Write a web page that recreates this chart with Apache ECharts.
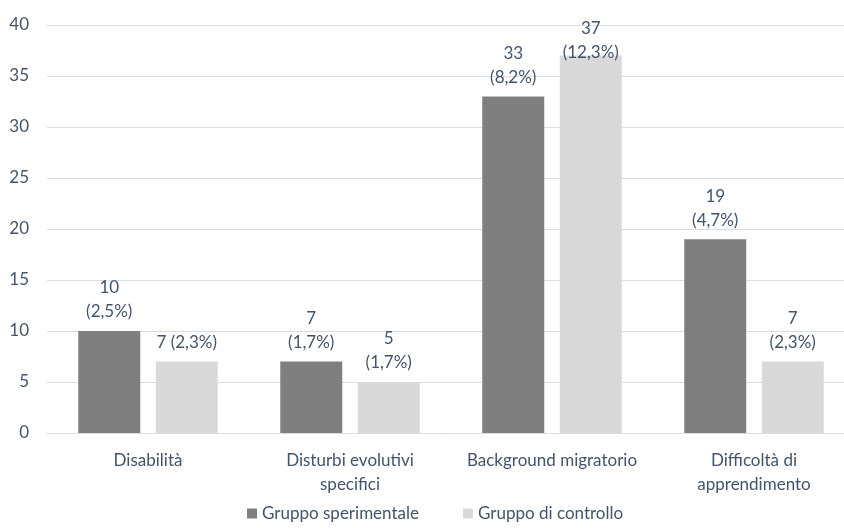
<!DOCTYPE html>
<html>
<head>
<meta charset="utf-8">
<script src="https://cdn.jsdelivr.net/npm/echarts@6/dist/echarts.min.js"></script>
<style>
  html, body { margin: 0; padding: 0; background: #fff; }
  #chart { width: 844px; height: 528px; }
</style>
</head>
<body>
<div id="chart"></div>
<script>
// categorie
const categories = ['Disabilità', 'Disturbi evolutivi\nspecifici', 'Background migratorio', 'Difficoltà di\napprendimento'];
// valori
const sperimentale = [10, 7, 33, 19];
const controllo = [7, 5, 37, 7];
const pctSperimentale = ['2,5%', '1,7%', '8,2%', '4,7%'];
const pctControllo = ['2,3%', '1,7%', '12,3%', '2,3%'];
const yTicks = [0, 5, 10, 15, 20, 25, 30, 35, 40];

const textColor = '#44546a';
const gridColor = '#d9dde6';
const font = 'Lato';
const fs = 17;

let myChart = echarts.init(document.getElementById('chart'));

function labelFmt(pcts) {
    return function (p) {
        return p.value + '\n(' + pcts[p.dataIndex] + ')';
    };
}

let ctrlData = controllo.map((v, i) => {
    let item = { value: v };
    if (i == 0) {
        // etichetta su una riga sola
        item.label = { formatter: v + ' (' + pctControllo[i] + ')' };
    }
    if (i == 2) {
        item.label = { offset: [0, 16] };
    }
    return item;
});

myChart.setOption({
    animation: false,
    textStyle: { fontFamily: font },
    grid: {
        left: 47,
        top: 25,
        right: -11,
        height: 408,
        containLabel: false,
        outerBoundsMode: 'none'
    },
    legend: {
        top: 505,
        left: 247,
        padding: 0,
        itemWidth: 10,
        itemHeight: 10,
        itemGap: 44,
        icon: 'rect',
        textStyle: { color: textColor, fontSize: fs, fontFamily: font },
        data: ['Gruppo sperimentale', 'Gruppo di controllo']
    },
    xAxis: {
        type: 'category',
        data: categories,
        axisLine: { lineStyle: { color: gridColor, width: 1 } },
        axisTick: { show: false },
        axisLabel: {
            color: textColor,
            fontSize: fs,
            fontFamily: font,
            margin: 16,
            lineHeight: 24,
            interval: 0
        }
    },
    yAxis: {
        type: 'value',
        min: yTicks[0],
        max: yTicks[yTicks.length - 1],
        interval: 5,
        axisLine: { show: false },
        axisTick: { show: false },
        splitLine: { lineStyle: { color: gridColor, width: 1 } },
        axisLabel: {
            color: textColor,
            fontSize: fs,
            fontFamily: font,
            margin: 18
        }
    },
    series: [
        {
            name: 'Gruppo sperimentale',
            type: 'bar',
            data: sperimentale,
            barWidth: 62,
            barGap: '25%',
            itemStyle: { color: '#7f7f7f' },
            label: {
                show: true,
                position: 'top',
                distance: 7,
                color: textColor,
                fontSize: fs,
                fontFamily: font,
                lineHeight: 24,
                formatter: labelFmt(pctSperimentale)
            }
        },
        {
            name: 'Gruppo di controllo',
            type: 'bar',
            data: ctrlData,
            barWidth: 62,
            barGap: '25%',
            itemStyle: { color: '#d9d9d9' },
            label: {
                show: true,
                position: 'top',
                distance: 7,
                color: textColor,
                fontSize: fs,
                fontFamily: font,
                lineHeight: 24,
                formatter: labelFmt(pctControllo)
            }
        }
    ]
});
</script>
</body>
</html>
